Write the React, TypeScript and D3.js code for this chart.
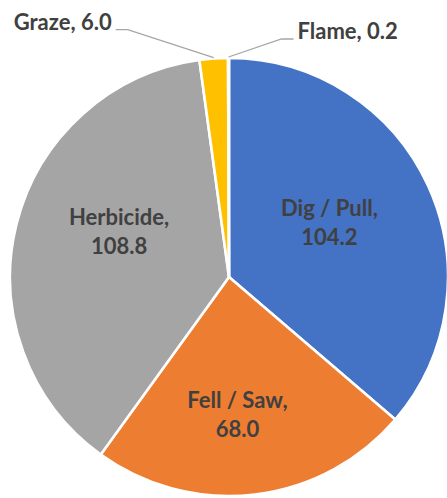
import { useEffect, useRef } from 'react';
import * as d3 from 'd3';

const categories = ['Dig / Pull', 'Fell / Saw', 'Herbicide', 'Graze', 'Flame'];
const values = [104.2, 68.0, 108.8, 6.0, 0.2];
const colors = ['#4472C4', '#ED7D31', '#A5A5A5', '#FFC000', '#5B9BD5'];
// labels that sit outside the pie with a leader line
const outsideLabels = ['Graze', 'Flame'];

function PieChart() {
  const svgRef = useRef<SVGSVGElement>(null);

  useEffect(() => {
    document.body.style.margin = '0';

    const cx = 229;
    const cy = 277;
    const radius = 219;

    const svg = d3.select(svgRef.current);
    svg.selectAll('*').remove();

    const data = categories.map((c, i) => ({ category: c, value: values[i], color: colors[i] }));

    const pie = d3.pie<any>()
      .sort(null)
      .value(d => d.value);

    const arcs = pie(data);

    const arc = d3.arc<any>()
      .innerRadius(0)
      .outerRadius(radius);

    const labelArc = d3.arc<any>()
      .innerRadius(radius * 0.56)
      .outerRadius(radius * 0.56);

    const edgeArc = d3.arc<any>()
      .innerRadius(radius)
      .outerRadius(radius);

    const g = svg.append('g')
      .attr('transform', `translate(${cx},${cy})`);

    // Slices
    g.selectAll('path.slice')
      .data(arcs)
      .join('path')
      .attr('class', 'slice')
      .attr('d', arc)
      .attr('fill', d => d.data.color)
      .attr('stroke', '#fff')
      .attr('stroke-width', 2.6)
      .attr('stroke-linejoin', 'round');

    const fmt = d3.format('.1f');
    const textColor = '#404040';
    const font = 'Lato, "Open Sans", sans-serif';
    const fontSize = '22px';

    // Inside labels (two lines), nudged the way Excel's best fit places them
    const nudge: Record<string, [number, number]> = {
      'Dig / Pull': [-11, -3],
      'Fell / Saw': [-6, 16],
      'Herbicide': [9, -15],
    };

    arcs.filter(a => !outsideLabels.includes(a.data.category)).forEach(a => {
      const [x, y] = labelArc.centroid(a);
      const [dx, dy] = nudge[a.data.category] || [0, 0];
      const t = g.append('text')
        .attr('x', x + dx)
        .attr('y', y + dy - 7)
        .attr('text-anchor', 'middle')
        .attr('font-family', font)
        .attr('font-weight', 'bold')
        .attr('font-size', fontSize)
        .attr('fill', textColor);
      t.append('tspan')
        .attr('x', x + dx)
        .text(`${a.data.category},`);
      t.append('tspan')
        .attr('x', x + dx)
        .attr('dy', 29)
        .text(fmt(a.data.value));
    });

    // Outside labels with leader lines
    const leader: Record<string, { elbow: [number, number]; side: number }> = {
      'Graze': { elbow: [-86, -29], side: -1 },
      'Flame': { elbow: [53, -19], side: 1 },
    };

    arcs.filter(a => outsideLabels.includes(a.data.category)).forEach(a => {
      const [sx, sy] = edgeArc.centroid(a);
      const { elbow, side } = leader[a.data.category];
      const ex = sx + elbow[0];
      const ey = sy + elbow[1];
      const tx = ex + side * 12;

      g.append('path')
        .attr('d', d3.line()([[sx, sy - 1], [ex, ey], [tx, ey]]))
        .attr('fill', 'none')
        .attr('stroke', '#A6A6A6')
        .attr('stroke-width', 1.3);

      g.append('text')
        .attr('x', tx + side * 4)
        .attr('y', ey)
        .attr('text-anchor', side < 0 ? 'end' : 'start')
        .attr('font-family', font)
        .attr('font-weight', 'bold')
        .attr('font-size', fontSize)
        .attr('fill', textColor)
        .text(`${a.data.category}, ${fmt(a.data.value)}`);
    });
  }, []);

  return <svg ref={svgRef} width="447" height="498" style={{ display: 'block' }}></svg>;
}

export default function App() {
  return <PieChart />;
}
